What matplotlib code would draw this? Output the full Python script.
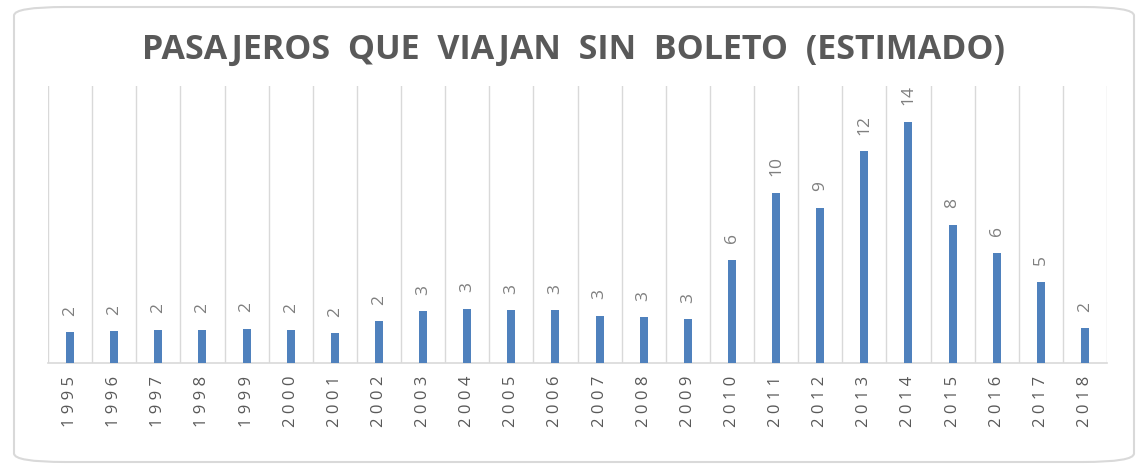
import numpy as np
import matplotlib.pyplot as plt
from matplotlib.patches import FancyBboxPatch

years = [str(y) for y in range(1995, 2019)]
pasajeros = [1.79, 1.85, 1.91, 1.91, 1.98, 1.91, 1.73, 2.43, 3.00, 3.13,
             3.07, 3.07, 2.76, 2.66, 2.53, 6.00, 9.89, 9.01, 12.31, 14.00,
             8.02, 6.39, 4.70, 2.02]
titulo = 'PASAJEROS  QUE  VIAJAN  SIN  BOLETO  (ESTIMADO)'

GRIS = '#595959'
AZUL = '#4f81bd'
LINEA = '#d9d9d9'

plt.rcParams['font.family'] = ['Open Sans', 'DejaVu Sans']

fig = plt.figure(figsize=(11.4, 4.65), dpi=100)

# marco redondeado
marco = FancyBboxPatch((14 / 1140, 3 / 465), 1120 / 1140, 455 / 465,
                       boxstyle='round,pad=0,rounding_size=0.045',
                       transform=fig.transFigure, facecolor='white',
                       edgecolor=LINEA, linewidth=1.5, mutation_aspect=465 / 1140,
                       zorder=-1)
fig.patches.append(marco)

ax = fig.add_axes([48 / 1140, 1 - 363 / 465, 1059 / 1140, 277 / 465])
ax.set_facecolor('none')
x = np.arange(len(years))
bars = ax.bar(x, pasajeros, width=0.18, color=AZUL, zorder=3)

ax.set_xlim(-0.5, len(years) - 0.5)
ax.set_ylim(0, 16.1)
for b in np.arange(-0.5, len(years), 1.0):
    ax.axvline(b, color=LINEA, linewidth=1, zorder=1)

for s in ['top', 'right', 'left']:
    ax.spines[s].set_visible(False)
ax.spines['bottom'].set_color(LINEA)
ax.spines['bottom'].set_linewidth(1.2)
ax.set_yticks([])
ax.set_xticks(x)
ax.set_xticklabels([' '.join(y) for y in years], rotation=90, color=GRIS,
                   fontsize=12)
ax.tick_params(axis='x', length=0, pad=9)

for xi, v in zip(x, pasajeros):
    ax.annotate(str(int(round(v))), (xi, v), xytext=(0, 12),
                textcoords='offset points', rotation=90, ha='center',
                va='bottom', color='#7f7f7f', fontsize=12.5)

fig.text(573 / 1140, 1 - 50 / 465, titulo, ha='center', va='center',
         fontsize=24.5, fontweight='bold', color=GRIS)

fig.savefig('out.png', dpi=100)
